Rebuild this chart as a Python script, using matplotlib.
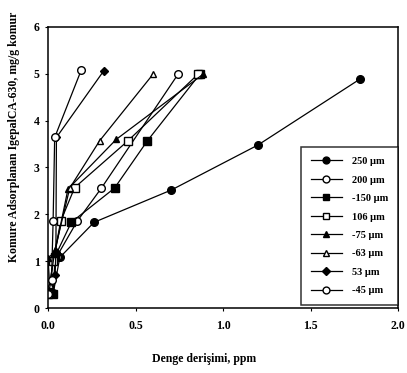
import matplotlib
matplotlib.use("Agg")
import matplotlib.pyplot as plt

plt.rcParams['font.family'] = ['Liberation Serif', 'DejaVu Serif']
plt.rcParams['font.weight'] = 'bold'

labels = ["250 µm", "200 µm", "-150 µm", "106 µm", "-75 µm", "-63 µm", "53 µm", "-45 µm"]
markers = ['o', 'o', 's', 's', '^', '^', 'D', 'o']
filled = [True, False, True, False, True, False, True, False]

x250 = [0.03, 0.067, 0.263, 0.705, 1.20, 1.78]
y250 = [0.32, 1.08, 1.83, 2.52, 3.48, 4.88]
x200 = [0.02, 0.05, 0.166, 0.305, 0.743]
y200 = [0.30, 1.10, 1.85, 2.56, 4.99]
x150 = [0.03, 0.04, 0.133, 0.38, 0.568, 0.867]
y150 = [0.30, 1.10, 1.83, 2.56, 3.57, 4.99]
x106 = [0.0, 0.03, 0.072, 0.152, 0.457, 0.857]
y106 = [0.30, 1.00, 1.85, 2.57, 3.57, 4.99]
x75 = [0.01, 0.0, 0.04, 0.114, 0.39, 0.886]
y75 = [0.45, 1.07, 1.20, 2.54, 3.60, 4.99]
x63 = [0.01, 0.04, 0.124, 0.295, 0.60]
y63 = [0.50, 1.25, 2.56, 3.57, 4.99]
x53 = [0.03, 0.04, 0.045, 0.048, 0.318]
y53 = [0.30, 0.70, 1.20, 3.64, 5.06]
x45 = [0.0, 0.02, 0.029, 0.038, 0.19]
y45 = [0.30, 0.60, 1.85, 3.64, 5.08]

xs = [x250, x200, x150, x106, x75, x63, x53, x45]
ys = [y250, y200, y150, y106, y75, y63, y53, y45]

fig = plt.figure(figsize=(4.07, 3.73), dpi=100)
ax = fig.add_axes([0.118, 0.174, 0.86, 0.754])

for x, y, lab, m, f in zip(xs, ys, labels, markers, filled):
    ms = 5.5 if m != '^' else 5
    if m == 'D':
        ms = 4.5
    ax.plot(x, y, color='black', lw=0.9, marker=m, markersize=ms,
            markerfacecolor='black' if f else 'white', markeredgecolor='black',
            markeredgewidth=1.0, label=lab)

ax.set_xlim(0, 2.0)
ax.set_ylim(0, 6)
ax.set_xticks([0.0, 0.5, 1.0, 1.5, 2.0])
ax.set_xticklabels(['0.0', '0.5', '1.0', '1.5', '2.0'])
ax.set_yticks([0, 1, 2, 3, 4, 5, 6])
ax.tick_params(direction='out', length=2.5, width=0.8, labelsize=8.5)
ax.tick_params(axis='x', pad=6)
for s in ax.spines.values():
    s.set_linewidth(1.1)

ax.set_xlabel('Denge derişimi, ppm', fontsize=8.5, fontweight='bold')
ax.xaxis.set_label_coords(0.445, -0.16)
ax.set_ylabel('Komure Adsorplanan IgepalCA-630, mg/g komur', fontsize=8.5, fontweight='bold')
ax.yaxis.set_label_coords(-0.08, 0.61)

leg = ax.legend(loc='lower right', bbox_to_anchor=(1.0, 0.012), fontsize=7.5,
                frameon=True, fancybox=False, edgecolor='black', handlelength=3.0,
                labelspacing=0.88, borderpad=0.9, handletextpad=1.0, borderaxespad=0,
                markerscale=0.9)
leg.get_frame().set_linewidth(1.1)

fig.savefig('out.png', dpi=100)
